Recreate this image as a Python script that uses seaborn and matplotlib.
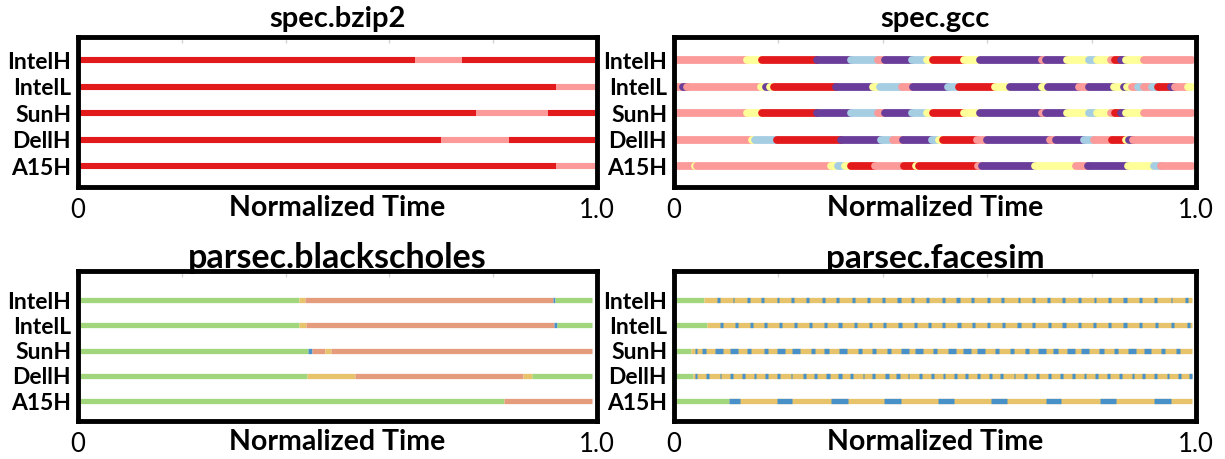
import matplotlib
matplotlib.use("Agg")
import matplotlib.pyplot as plt
import seaborn as sns

sns.set_theme(style="white")
plt.rcParams["font.family"] = ["Lato", "DejaVu Sans"]

# ---------------------------------------------------------------- data
platforms = ["IntelH", "IntelL", "SunH", "DellH", "A15H"]
x_ticks = [0.0, 1.0]
x_ticklabels = ["0", "1.0"]
x_label = "Normalized Time"

# Phase colours: SPEC runs use the ColorBrewer "Paired" set, PARSEC runs a softer set
paired = sns.color_palette("Paired")
spec_colors = {"R": paired[5], "P": paired[4], "U": paired[9], "Y": paired[10], "B": paired[0]}
parsec_colors = {"G": "#a2d67c", "S": "#e49c7c", "O": "#e7c46c", "C": "#4791c8"}

# spec.bzip2: (start, end, phase)
bzip2_intelh = [(0.003, 0.649, "R"), (0.649, 0.740, "P"), (0.740, 0.997, "R")]
bzip2_intell = [(0.003, 0.921, "R"), (0.921, 0.997, "P")]
bzip2_sunh = [(0.003, 0.766, "R"), (0.766, 0.906, "P"), (0.906, 0.997, "R")]
bzip2_dellh = [(0.003, 0.700, "R"), (0.700, 0.830, "P"), (0.830, 0.997, "R")]
bzip2_a15h = [(0.003, 0.921, "R"), (0.921, 0.997, "P")]

# spec.gcc
gcc_intelh = [
    (0.004, 0.140, "P"), (0.140, 0.168, "Y"), (0.168, 0.273, "R"), (0.273, 0.340, "U"),
    (0.340, 0.390, "B"), (0.390, 0.405, "P"), (0.405, 0.455, "U"), (0.455, 0.484, "B"),
    (0.484, 0.497, "Y"), (0.497, 0.556, "R"), (0.556, 0.587, "Y"), (0.587, 0.705, "U"),
    (0.705, 0.712, "P"), (0.712, 0.753, "U"), (0.753, 0.795, "Y"), (0.795, 0.811, "B"),
    (0.811, 0.837, "Y"), (0.837, 0.845, "P"), (0.845, 0.856, "R"), (0.856, 0.866, "U"),
    (0.866, 0.900, "Y"), (0.900, 0.992, "P"),
]
gcc_intell = [
    (0.004, 0.017, "P"), (0.017, 0.024, "U"), (0.024, 0.167, "P"), (0.167, 0.177, "Y"),
    (0.177, 0.183, "U"), (0.183, 0.192, "Y"), (0.192, 0.311, "R"), (0.311, 0.382, "U"),
    (0.382, 0.394, "Y"), (0.394, 0.436, "B"), (0.436, 0.458, "P"), (0.458, 0.525, "U"),
    (0.525, 0.546, "B"), (0.546, 0.615, "R"), (0.615, 0.644, "Y"), (0.644, 0.705, "U"),
    (0.705, 0.717, "Y"), (0.717, 0.776, "U"), (0.776, 0.795, "P"), (0.795, 0.843, "U"),
    (0.843, 0.862, "Y"), (0.862, 0.868, "U"), (0.868, 0.878, "Y"), (0.878, 0.888, "P"),
    (0.888, 0.900, "B"), (0.900, 0.916, "P"), (0.916, 0.927, "B"), (0.927, 0.952, "R"),
    (0.952, 0.960, "U"), (0.960, 0.985, "P"), (0.985, 0.992, "Y"),
]
gcc_sunh = [
    (0.004, 0.140, "P"), (0.140, 0.168, "Y"), (0.168, 0.273, "R"), (0.273, 0.340, "U"),
    (0.340, 0.390, "B"), (0.390, 0.405, "P"), (0.405, 0.455, "U"), (0.455, 0.484, "B"),
    (0.484, 0.497, "Y"), (0.497, 0.556, "R"), (0.556, 0.587, "Y"), (0.587, 0.705, "U"),
    (0.705, 0.712, "P"), (0.712, 0.753, "U"), (0.753, 0.795, "Y"), (0.795, 0.811, "B"),
    (0.811, 0.837, "Y"), (0.837, 0.845, "P"), (0.845, 0.856, "R"), (0.856, 0.866, "U"),
    (0.866, 0.900, "Y"), (0.900, 0.992, "P"),
]
gcc_dellh = [
    (0.004, 0.150, "P"), (0.150, 0.156, "Y"), (0.156, 0.197, "B"), (0.197, 0.319, "R"),
    (0.319, 0.397, "U"), (0.397, 0.420, "B"), (0.420, 0.439, "P"), (0.439, 0.494, "U"),
    (0.494, 0.508, "B"), (0.508, 0.515, "Y"), (0.515, 0.580, "R"), (0.580, 0.599, "P"),
    (0.599, 0.721, "U"), (0.721, 0.731, "P"), (0.731, 0.785, "U"), (0.785, 0.804, "B"),
    (0.804, 0.840, "P"), (0.840, 0.866, "R"), (0.866, 0.872, "Y"), (0.872, 0.880, "U"),
    (0.880, 0.992, "P"),
]
gcc_a15h = [
    (0.004, 0.040, "P"), (0.040, 0.044, "Y"), (0.044, 0.300, "P"), (0.300, 0.314, "Y"),
    (0.314, 0.327, "B"), (0.327, 0.340, "Y"), (0.340, 0.385, "R"), (0.385, 0.440, "P"),
    (0.440, 0.464, "R"), (0.464, 0.470, "Y"), (0.470, 0.583, "R"), (0.583, 0.590, "P"),
    (0.590, 0.692, "U"), (0.692, 0.770, "Y"), (0.770, 0.794, "P"), (0.794, 0.870, "U"),
    (0.870, 0.920, "Y"), (0.920, 0.932, "B"), (0.932, 0.992, "P"),
]

# parsec.blackscholes
bs_intelh = [(0.003, 0.426, "G"), (0.426, 0.438, "O"), (0.438, 0.915, "S"),
             (0.915, 0.920, "C"), (0.920, 0.991, "G")]
bs_intell = [(0.003, 0.426, "G"), (0.426, 0.440, "O"), (0.440, 0.917, "S"),
             (0.917, 0.922, "C"), (0.922, 0.991, "G")]
bs_sunh = [(0.003, 0.444, "G"), (0.444, 0.451, "C"), (0.451, 0.475, "S"),
           (0.475, 0.488, "O"), (0.488, 0.991, "S")]
bs_dellh = [(0.003, 0.442, "G"), (0.442, 0.534, "O"), (0.534, 0.857, "S"),
            (0.857, 0.875, "O"), (0.875, 0.991, "G")]
bs_a15h = [(0.003, 0.821, "G"), (0.821, 0.991, "S")]

# parsec.facesim: warm-up end, then short blue phases (centre, width) over a gold run
fs_end = 0.993
fs_warmup = [0.058, 0.063, 0.033, 0.037, 0.106]
fs_intelh_c = [0.086, 0.114, 0.142, 0.170, 0.199, 0.227, 0.256, 0.287, 0.314, 0.344, 0.373,
               0.402, 0.431, 0.457, 0.486, 0.516, 0.544, 0.572, 0.602, 0.630, 0.661, 0.689,
               0.717, 0.746, 0.776, 0.806, 0.834, 0.864, 0.893, 0.923, 0.953, 0.981]
fs_intelh_w = [0.006, 0.003, 0.006, 0.006, 0.003, 0.006, 0.006, 0.006, 0.006, 0.006, 0.006,
               0.006, 0.006, 0.006, 0.006, 0.006, 0.006, 0.006, 0.006, 0.006, 0.003, 0.006,
               0.006, 0.006, 0.006, 0.003, 0.006, 0.006, 0.006, 0.006, 0.003, 0.006]
fs_intell_c = [0.091, 0.119, 0.148, 0.176, 0.204, 0.232, 0.261, 0.290, 0.318, 0.348, 0.376,
               0.404, 0.433, 0.462, 0.489, 0.517, 0.546, 0.574, 0.603, 0.632, 0.661, 0.689,
               0.719, 0.747, 0.776, 0.805, 0.834, 0.864, 0.894, 0.925, 0.955, 0.985]
fs_intell_w = [0.006] * 32
fs_sunh_c = [0.042, 0.058, 0.087, 0.115, 0.144, 0.176, 0.205, 0.234, 0.266, 0.292, 0.324,
             0.356, 0.383, 0.412, 0.442, 0.470, 0.500, 0.532, 0.561, 0.588, 0.618, 0.648,
             0.676, 0.705, 0.731, 0.761, 0.788, 0.819, 0.847, 0.878, 0.907, 0.937, 0.966]
fs_sunh_w = [0.004, 0.008, 0.015, 0.015, 0.008, 0.008, 0.015, 0.015, 0.008, 0.008, 0.015,
             0.008, 0.008, 0.008, 0.015, 0.015, 0.008, 0.015, 0.015, 0.015, 0.008, 0.008,
             0.008, 0.015, 0.008, 0.015, 0.015, 0.008, 0.008, 0.015, 0.015, 0.008, 0.008]
fs_dellh_c = [0.042, 0.065, 0.089, 0.110, 0.133, 0.155, 0.178, 0.201, 0.225, 0.250, 0.271,
              0.295, 0.318, 0.340, 0.363, 0.383, 0.408, 0.429, 0.449, 0.472, 0.495, 0.517,
              0.540, 0.561, 0.584, 0.606, 0.628, 0.652, 0.674, 0.697, 0.719, 0.742, 0.766,
              0.787, 0.810, 0.833, 0.855, 0.879, 0.900, 0.923, 0.946, 0.968, 0.990]
fs_dellh_w = [0.003, 0.006, 0.003, 0.006, 0.006, 0.003, 0.006, 0.006, 0.003, 0.006, 0.006,
              0.006, 0.006, 0.006, 0.003, 0.006, 0.006, 0.006, 0.003, 0.006, 0.006, 0.003,
              0.006, 0.006, 0.006, 0.006, 0.006, 0.003, 0.006, 0.006, 0.006, 0.006, 0.006,
              0.003, 0.006, 0.006, 0.006, 0.003, 0.006, 0.006, 0.003, 0.006, 0.006]
fs_a15h_c = [0.1165, 0.212, 0.3165, 0.418, 0.5205, 0.623, 0.727, 0.832, 0.936]
fs_a15h_w = [0.021, 0.030, 0.033, 0.032, 0.031, 0.030, 0.030, 0.030, 0.034]


def facesim_row(warm, centres, widths):
    segs = [(0.003, warm, "G"), (warm, fs_end, "O")]
    segs += [(c - w / 2, c + w / 2, "C") for c, w in zip(centres, widths)]
    return segs


panels = [
    dict(title="spec.bzip2", title_size=21, title_pad=7, colors=spec_colors, lw=4.4, cap="butt",
         rows=[bzip2_intelh, bzip2_intell, bzip2_sunh, bzip2_dellh, bzip2_a15h]),
    dict(title="spec.gcc", title_size=21, title_pad=7, colors=spec_colors, lw=5.6, cap="round",
         rows=[gcc_intelh, gcc_intell, gcc_sunh, gcc_dellh, gcc_a15h]),
    dict(title="parsec.blackscholes", title_size=24.5, title_pad=2, colors=parsec_colors,
         lw=3.8, cap="butt",
         rows=[bs_intelh, bs_intell, bs_sunh, bs_dellh, bs_a15h]),
    dict(title="parsec.facesim", title_size=24, title_pad=2, colors=parsec_colors,
         lw=3.8, cap="butt",
         rows=[facesim_row(fs_warmup[0], fs_intelh_c, fs_intelh_w),
               facesim_row(fs_warmup[1], fs_intell_c, fs_intell_w),
               facesim_row(fs_warmup[2], fs_sunh_c, fs_sunh_w),
               facesim_row(fs_warmup[3], fs_dellh_c, fs_dellh_w),
               facesim_row(fs_warmup[4], fs_a15h_c, fs_a15h_w)]),
]

# ---------------------------------------------------------------- layout
W, H = 1225, 459
fig = plt.figure(figsize=(W / 100, H / 100), dpi=100)
boxes = [(78, 37, 597, 187), (674, 37, 1196, 187),
         (78, 271, 597, 421), (674, 271, 1196, 421)]
ylims = [(4.79, -0.87), (4.79, -0.87), (4.79, -1.15), (4.79, -1.15)]

for spec, (x0, y0, x1, y1), ylim in zip(panels, boxes, ylims):
    ax = fig.add_axes([x0 / W, 1 - y1 / H, (x1 - x0) / W, (y1 - y0) / H])
    cmap = spec["colors"]
    for yi, segs in enumerate(spec["rows"]):
        lc = ax.hlines([yi] * len(segs), [s[0] for s in segs], [s[1] for s in segs],
                       colors=[cmap[s[2]] for s in segs], linewidth=spec["lw"], zorder=2)
        lc.set_capstyle(spec["cap"])
    ax.set_xlim(0, 1)
    ax.set_ylim(*ylim)
    ax.set_yticks(range(len(platforms)))
    ax.set_yticklabels(platforms, fontsize=16.5, fontweight="bold", color="black")
    ax.set_xticks(x_ticks)
    ax.set_xticklabels(x_ticklabels, fontsize=18.5, color="black")
    ax.set_xticks([0.2, 0.4, 0.6, 0.8], minor=True)
    ax.tick_params(axis="x", which="major", length=0, pad=8)
    ax.tick_params(axis="y", which="major", length=0, pad=5)
    ax.tick_params(axis="x", which="minor", top=True, bottom=False, direction="in",
                   length=4, width=1, color="#d4d4d4")
    ax.set_xlabel(x_label, fontsize=20.5, fontweight="bold", color="black")
    ax.xaxis.set_label_coords(0.5, -0.055)
    ax.set_title(spec["title"], fontsize=spec["title_size"], fontweight="bold",
                 color="black", pad=spec["title_pad"])
    for side in ax.spines.values():
        side.set_color("black")
        side.set_linewidth(3.5)
        side.set_visible(True)
    ax.grid(False)

fig.savefig("out.png", dpi=100, facecolor="white")
